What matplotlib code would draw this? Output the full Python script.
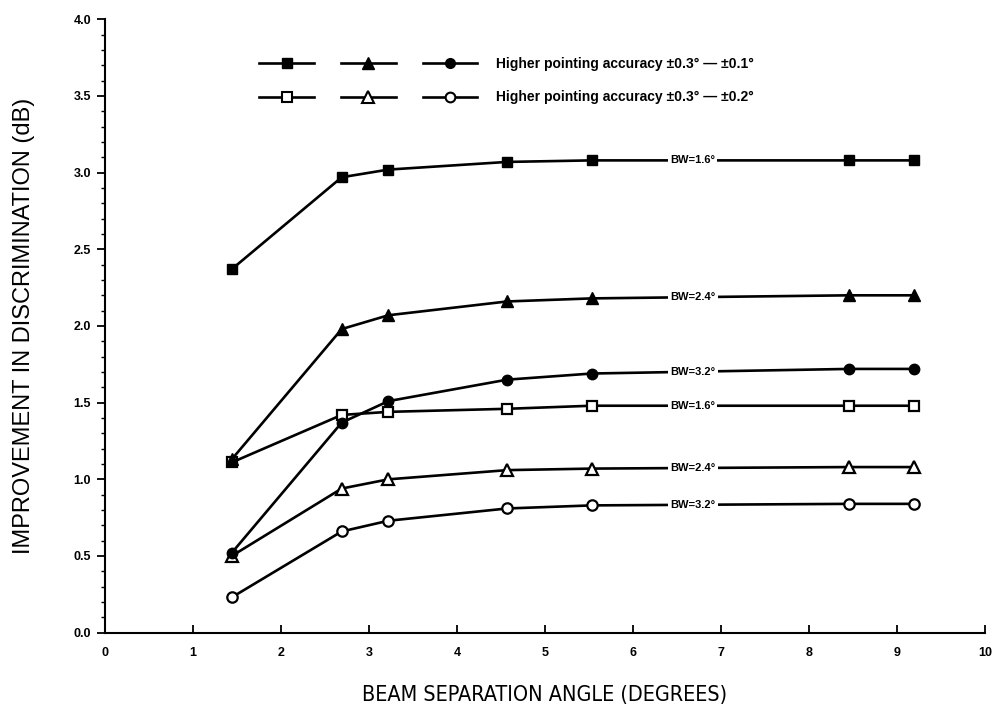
import numpy as np
import matplotlib
matplotlib.use("Agg")
import matplotlib.pyplot as plt
from matplotlib import font_manager
from matplotlib.lines import Line2D
from matplotlib.legend_handler import HandlerTuple

# beam separation angles (degrees)
angles = [1.44, 2.69, 3.22, 4.57, 5.53, 8.45, 9.19]

# pointing accuracy +-0.3 -> +-0.1 (filled markers)
fine_bw16 = [2.37, 2.97, 3.02, 3.07, 3.08, 3.08, 3.08]
fine_bw24 = [1.13, 1.98, 2.07, 2.16, 2.18, 2.20, 2.20]
fine_bw32 = [0.52, 1.37, 1.51, 1.65, 1.69, 1.72, 1.72]

# pointing accuracy +-0.3 -> +-0.2 (open markers)
coarse_bw16 = [1.11, 1.42, 1.44, 1.46, 1.48, 1.48, 1.48]
coarse_bw24 = [0.50, 0.94, 1.00, 1.06, 1.07, 1.08, 1.08]
coarse_bw32 = [0.23, 0.66, 0.73, 0.81, 0.83, 0.84, 0.84]

bw_labels = ["BW=1.6°", "BW=2.4°", "BW=3.2°"]
legend_labels = ["Higher pointing accuracy ±0.3° — ±0.1°",
                 "Higher pointing accuracy ±0.3° — ±0.2°"]
label_x = 6.68

bold_font = ["Liberation Sans", "DejaVu Sans"]

# condensed face for the x axis title, if one is installed
names = font_manager.get_font_names()
narrow_kw = dict(family=["Liberation Sans", "DejaVu Sans"])
if "Liberation Sans Narrow" in names:
    narrow_kw = dict(family=["Liberation Sans Narrow", "DejaVu Sans"])
elif any("Condensed" in f.fname and "DejaVuSans" in f.fname for f in font_manager.fontManager.ttflist):
    narrow_kw = dict(family=["DejaVu Sans"], fontstretch="condensed")

fig = plt.figure(figsize=(9.95, 7.05), dpi=100)
ax = fig.add_axes([0.1055, 0.1026, 0.8845, 0.87])

markers = ["s", "^", "o"]
sizes = [7.5, 8.5, 7.5]
fine_handles = []
coarse_handles = []
for series, m, ms, lab in zip([fine_bw16, fine_bw24, fine_bw32], markers, sizes, bw_labels):
    ax.plot(angles, series, color="black", lw=1.9, marker=m, ms=ms,
            mfc="black", mec="black", zorder=3)
    y = np.interp(label_x, angles, series)
    ax.text(label_x, y, lab, fontsize=8, fontweight="bold", family=bold_font,
            ha="center", va="center", zorder=4,
            bbox=dict(facecolor="white", edgecolor="none", pad=1.5))
    fine_handles.append(Line2D([], [], color="black", lw=1.9, marker=m, ms=ms - 0.5,
                               mfc="black", mec="black"))

for series, m, ms, lab in zip([coarse_bw16, coarse_bw24, coarse_bw32], markers, sizes, bw_labels):
    ax.plot(angles, series, color="black", lw=1.9, marker=m, ms=ms,
            mfc="white", mec="black", mew=1.6, zorder=2)
    y = np.interp(label_x, angles, series)
    ax.text(label_x, y, lab, fontsize=8, fontweight="bold", family=bold_font,
            ha="center", va="center", zorder=4,
            bbox=dict(facecolor="white", edgecolor="none", pad=1.5))
    coarse_handles.append(Line2D([], [], color="black", lw=1.9, marker=m, ms=ms - 0.5,
                                 mfc="white", mec="black", mew=1.5))

leg_size = 10
px = leg_size * 100 / 72
ax.legend([tuple(fine_handles), tuple(coarse_handles)], legend_labels,
          handler_map={tuple: HandlerTuple(ndivide=None, pad=27 / px)},
          handlelength=218 / px, handletextpad=19 / px, labelspacing=(33 - px) / px,
          frameon=False, loc="upper left", bbox_to_anchor=(0.1755, 0.938),
          borderpad=0, borderaxespad=0, numpoints=1,
          prop=dict(family=bold_font, weight="bold", size=leg_size))

ax.set_xlim(0, 10)
ax.set_ylim(0, 4.0)
ax.set_xticks(np.arange(0, 11, 1))
ax.set_xticklabels([str(i) for i in range(11)])
ax.set_yticks(np.arange(0, 4.01, 0.5))
ax.set_yticklabels([f"{v:.1f}" for v in np.arange(0, 4.01, 0.5)])
ax.set_yticks(np.arange(0, 4.01, 0.1), minor=True)

for s in ["top", "right"]:
    ax.spines[s].set_visible(False)
ax.spines["left"].set_linewidth(1.5)
ax.spines["bottom"].set_linewidth(1.5)

ax.tick_params(axis="x", direction="in", length=6, width=1.3, pad=10)
ax.tick_params(axis="y", which="major", direction="out", length=6, width=1.3, pad=4)
ax.tick_params(axis="y", which="minor", direction="out", length=3, width=1.0)
for t in ax.get_xticklabels() + ax.get_yticklabels():
    t.set_family(bold_font)
    t.set_fontweight("bold")
    t.set_fontsize(9)

ax.set_xlabel("BEAM SEPARATION ANGLE (DEGREES)", fontsize=15.5, labelpad=19, **narrow_kw)
ax.set_ylabel("IMPROVEMENT IN DISCRIMINATION (dB)", family=bold_font, fontsize=17, labelpad=28)

fig.savefig("out.png", dpi=100)
